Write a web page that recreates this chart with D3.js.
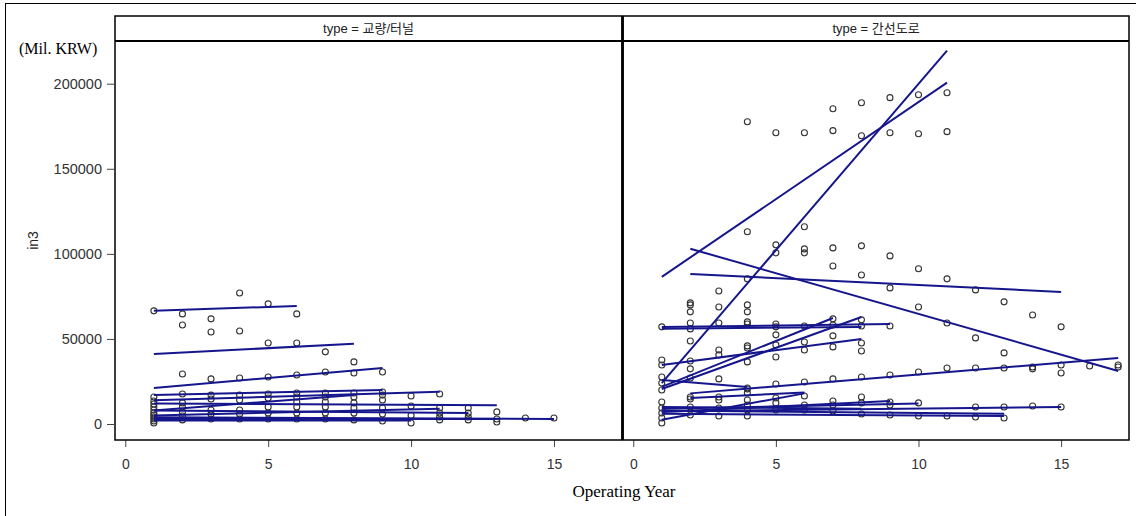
<!DOCTYPE html>
<html>
<head>
<meta charset="utf-8">
<script src="https://cdn.jsdelivr.net/npm/d3@7"></script>
<style>
  body { margin: 0; background: #fff; }
  svg { display: block; }
</style>
</head>
<body>
<div id="chart"></div>
<script>
const W = 1136, H = 516;

// panel labels
const panels = ["type = 교량/터널", "type = 간선도로"];
const xTicks = [0, 5, 10, 15];
const yTicks = [0, 50000, 100000, 150000, 200000];

// observed values, by operating year: [year, [in3 values]]
const bridgeObs = [
  [1, [66500, 15900, 13500, 11800, 10000, 8200, 6500, 5300, 4100, 2900, 1800, 600]],
  [2, [64700, 58200, 29400, 17600, 12400, 10000, 7100, 4700, 2400]],
  [3, [61800, 54100, 26500, 17000, 14700, 8200, 5900, 2900]],
  [4, [77000, 54700, 27000, 17000, 14100, 8200, 5900, 2900]],
  [5, [70600, 47600, 27600, 17600, 15300, 10000, 6500, 2900]],
  [6, [64700, 47600, 28800, 18200, 15900, 12900, 10000, 6500, 2900]],
  [7, [42400, 30600, 18200, 15900, 12900, 10000, 6500, 2900]],
  [8, [36500, 30000, 18200, 15900, 12400, 9400, 6500, 2400]],
  [9, [30600, 18800, 17000, 14100, 9400, 5900, 1800]],
  [10, [16500, 10600, 5000, 600]],
  [11, [17600, 9400, 6500, 4100, 2400]],
  [12, [9400, 6500, 4100, 2400]],
  [13, [7100, 2900, 1200]],
  [14, [3500]],
  [15, [3500]]
];

const roadObs = [
  [1, [57100, 37600, 34700, 27600, 24100, 20000, 12900, 9400, 6500, 3500, 600]],
  [2, [71200, 70000, 65900, 59400, 55900, 48800, 37000, 32400, 27000, 15900, 14700, 10000, 5300]],
  [3, [78200, 68800, 59400, 43500, 40600, 26500, 15900, 14100, 9400, 4700]],
  [4, [177600, 113000, 85300, 70000, 65900, 60000, 58800, 45900, 44700, 36500, 21200, 20600, 18200, 14100, 11200, 8200, 4700]],
  [5, [171200, 105300, 100600, 58800, 57100, 52400, 46500, 39400, 23500, 15300, 12400, 8200]],
  [6, [171200, 115900, 102900, 100600, 57600, 48200, 43500, 24700, 16500, 11200, 8200]],
  [7, [185300, 172400, 103500, 92900, 61800, 58200, 51800, 45300, 26500, 13500, 11200, 7600]],
  [8, [188800, 169400, 104700, 87600, 61200, 57600, 47600, 42900, 27600, 15900, 12400, 5900]],
  [9, [191800, 171200, 98800, 80000, 57600, 28800, 12900, 11200, 5300]],
  [10, [193500, 170600, 91200, 68800, 30600, 12400, 4700]],
  [11, [194700, 171800, 85300, 59400, 32900, 4700]],
  [12, [78800, 50600, 32900, 10000, 4100]],
  [13, [71800, 41800, 32900, 10000, 3500]],
  [14, [64100, 33500, 32400, 10600]],
  [15, [57100, 34700, 30000, 10000]],
  [16, [34100]],
  [17, [34700, 33500]]
];

// fitted lines per project: [x1, y1, x2, y2]
const bridgeFits = [
  [1, 66500, 6, 69400],
  [1, 41200, 8, 47100],
  [1, 21200, 9, 32900],
  [1, 17000, 9, 20000],
  [1, 14000, 11, 19000],
  [1, 8000, 8, 17000],
  [1, 12000, 13, 11000],
  [1, 8000, 12, 6500],
  [1, 5000, 11, 9000],
  [1, 4000, 15, 2900],
  [1, 3000, 13, 3000],
  [1, 2000, 10, 2000]
];

const roadFits = [
  [1, 86500, 11, 200600],
  [1, 24000, 11, 219400],
  [2, 103000, 17, 31200],
  [2, 88200, 15, 77600],
  [2, 18000, 17, 38800],
  [1, 25900, 4, 21800],
  [1, 57000, 9, 58800],
  [1, 56000, 8, 57000],
  [1, 20600, 8, 62900],
  [1, 21800, 7, 62300],
  [1, 34700, 8, 50000],
  [1, 7500, 15, 10000],
  [1, 8000, 13, 6000],
  [1, 6000, 13, 4700],
  [1, 7000, 9, 13500],
  [1, 9000, 10, 12000],
  [1, 2500, 6, 18000],
  [2, 15300, 6, 18500],
  [1, 10000, 8, 9000]
];

const lineCol = "#16168c";
const ptCol = "#333333";
const sans = "'Liberation Sans', Arial, sans-serif";
const serif = "'Liberation Serif', 'Times New Roman', serif";

const svg = d3.select("#chart").append("svg")
  .attr("width", W).attr("height", H)
  .attr("viewBox", `0 0 ${W} ${H}`);

// outer frame
svg.append("rect")
  .attr("x", 5.5).attr("y", 3.5).attr("width", W + 10).attr("height", H + 10)
  .attr("fill", "none").attr("stroke", "#000").attr("stroke-width", 1);

const yTop = 16, hdr = 41, yBot = 440;
const panelX = [[115, 622], [623, 1129]];

const y = d3.scaleLinear().domain([-9400, 224500]).range([yBot, hdr + 1]);

const data = [
  { obs: bridgeObs, fits: bridgeFits },
  { obs: roadObs, fits: roadFits }
];

data.forEach((p, i) => {
  const [x0, x1] = panelX[i];
  const x = d3.scaleLinear().domain([-0.36, 17.38]).range([x0, x1]);
  const g = svg.append("g");

  const clipId = "clip" + i;
  svg.append("clipPath").attr("id", clipId)
    .append("rect").attr("x", x0).attr("y", hdr).attr("width", x1 - x0).attr("height", yBot - hdr);

  const pts = p.obs.flatMap(([yr, vals]) => vals.map(v => [yr, v]));

  const marks = g.append("g").attr("clip-path", `url(#${clipId})`);
  marks.selectAll("circle")
    .data(pts)
    .join("circle")
      .attr("cx", d => x(d[0]))
      .attr("cy", d => y(d[1]))
      .attr("r", 3)
      .attr("fill", "none")
      .attr("stroke", ptCol)
      .attr("stroke-width", 1.1);

  marks.selectAll("line")
    .data(p.fits)
    .join("line")
      .attr("x1", d => x(d[0])).attr("y1", d => y(d[1]))
      .attr("x2", d => x(d[2])).attr("y2", d => y(d[3]))
      .attr("stroke", lineCol)
      .attr("stroke-width", 2);

  // x axis
  const xa = g.append("g")
    .attr("transform", `translate(0,${yBot})`)
    .call(d3.axisBottom(x).tickValues(xTicks).tickSize(7).tickPadding(12).tickSizeOuter(0));
  xa.select(".domain").remove();
  xa.selectAll("line").attr("stroke", "#444");
  xa.selectAll("text").attr("font-family", sans)
    .attr("font-size", 14).attr("fill", "#333");

  // panel frame + header
  g.append("rect")
    .attr("x", x0).attr("y", yTop).attr("width", x1 - x0).attr("height", yBot - yTop)
    .attr("fill", "none").attr("stroke", "#000").attr("stroke-width", 1.5);
  g.append("line")
    .attr("x1", x0).attr("x2", x1).attr("y1", hdr).attr("y2", hdr)
    .attr("stroke", "#000").attr("stroke-width", 2.2);
  g.append("text")
    .attr("x", (x0 + x1) / 2).attr("y", 33)
    .attr("text-anchor", "middle")
    .attr("font-family", "'Liberation Sans', 'Noto Sans CJK KR', sans-serif")
    .attr("font-size", 13).attr("fill", "#222")
    .text(panels[i]);
});

// divider between panels
svg.append("line")
  .attr("x1", 622.5).attr("x2", 622.5).attr("y1", yTop).attr("y2", yBot)
  .attr("stroke", "#000").attr("stroke-width", 2.5);

// y axis
const ya = svg.append("g")
  .attr("transform", `translate(${panelX[0][0]},0)`)
  .call(d3.axisLeft(y).tickValues(yTicks).tickFormat(d3.format("d"))
    .tickSize(8).tickPadding(5).tickSizeOuter(0));
ya.select(".domain").remove();
ya.selectAll("line").attr("stroke", "#444");
ya.selectAll("text").attr("font-family", sans)
  .attr("font-size", 14.5).attr("fill", "#333");

svg.append("text")
  .attr("transform", `translate(38,${(hdr + yBot) / 2}) rotate(-90)`)
  .attr("text-anchor", "middle")
  .attr("font-family", sans)
  .attr("font-size", 14).attr("fill", "#222")
  .text("in3");

svg.append("text")
  .attr("x", 19).attr("y", 54)
  .attr("font-family", serif)
  .attr("font-size", 16).attr("fill", "#000")
  .text("(Mil. KRW)");

svg.append("text")
  .attr("x", 624).attr("y", 497)
  .attr("text-anchor", "middle")
  .attr("font-family", serif)
  .attr("font-size", 17).attr("fill", "#000")
  .text("Operating Year");
</script>
</body>
</html>
